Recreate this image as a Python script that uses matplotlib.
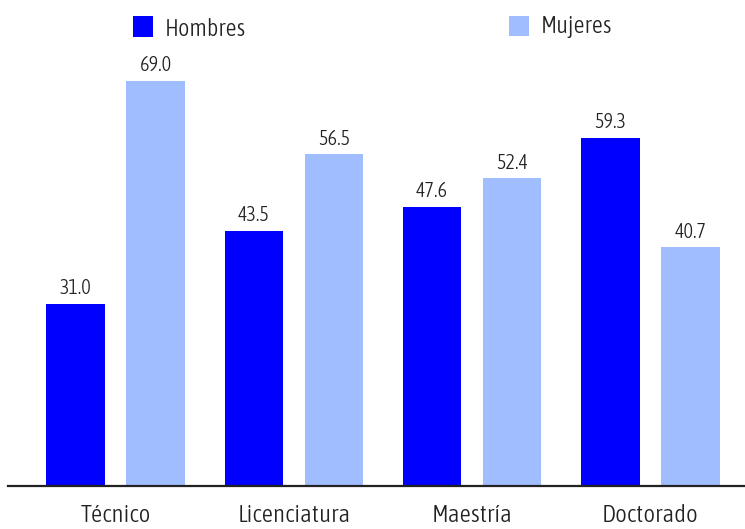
import matplotlib
matplotlib.use("Agg")
import matplotlib.pyplot as plt
from matplotlib import font_manager as fm
from matplotlib.patches import Rectangle
import numpy as np

categories = ["Técnico", "Licenciatura", "Maestría", "Doctorado"]
hombres = [31.0, 43.5, 47.6, 59.3]
mujeres = [69.0, 56.5, 52.4, 40.7]
series_names = ["Hombres", "Mujeres"]

def wnum(wt):
    if isinstance(wt, int):
        return wt
    return fm.weight_dict.get(str(wt), 400)

cond = [f for f in fm.fontManager.ttflist
        if ("Condensed" in f.name or "Condensed" in f.fname or "Narrow" in f.name
            or "Narrow" in f.fname)
        and f.style == "normal" and "Bold" not in f.fname
        and "Thin" not in f.fname and "ExtraLight" not in f.fname]
cond.sort(key=lambda f: (abs(wnum(f.weight) - 300), 0 if "Open" in f.name else 1))
if cond:
    fp_base = fm.FontProperties(fname=cond[0].fname)
else:
    fp_base = fm.FontProperties(family="DejaVu Sans")

def fp(size):
    p = fp_base.copy()
    p.set_size(size)
    return p

W, H = 745, 529
fig = plt.figure(figsize=(W/100, H/100), dpi=100)
base_y = 486
ax = fig.add_axes([0, 1 - base_y/H, 1, base_y/H])

c_h = "#0000ff"
c_m = "#a0bdff"
txt_c = "#222222"
x = np.arange(len(categories))
step = 178.3
w = 58.5/step
off = 40/step
b1 = ax.bar(x - off, hombres, w, color=c_h)
b2 = ax.bar(x + off, mujeres, w, color=c_m)
for bars, vals in ((b1, hombres), (b2, mujeres)):
    for r, v in zip(bars, vals):
        ax.annotate(f"{v:.1f}", (r.get_x() + r.get_width()/2, v), xytext=(0, 4),
                    textcoords="offset points", ha="center", va="bottom",
                    fontproperties=fp(14.5), color=txt_c)

ax.set_xlim(-115.5/step, (W - 115.5)/step)
ax.set_ylim(0, base_y/5.87)
ax.set_yticks([])
ax.set_xticks(x)
ax.set_xticklabels(categories, fontproperties=fp(18), color=txt_c)
ax.tick_params(axis="x", length=0, pad=13)
for s in ["top", "right", "left", "bottom"]:
    ax.spines[s].set_visible(False)
ax.axhline(0, xmin=8/W, xmax=1, color="#222222", linewidth=1.6, clip_on=False)
ax.set_facecolor("none")

# legend
fig.add_artist(Rectangle((133/W, 1 - 37/H), 20/W, 21/H, transform=fig.transFigure,
                         color=c_h, lw=0))
fig.text(165/W, 1 - 29/H, series_names[0], ha="left", va="center",
         fontproperties=fp(17.5), color=txt_c)
fig.add_artist(Rectangle((509/W, 1 - 36/H), 20/W, 20/H, transform=fig.transFigure,
                         color=c_m, lw=0))
fig.text(541/W, 1 - 26/H, series_names[1], ha="left", va="center",
         fontproperties=fp(17.5), color=txt_c)

fig.savefig("out.png", dpi=100)
